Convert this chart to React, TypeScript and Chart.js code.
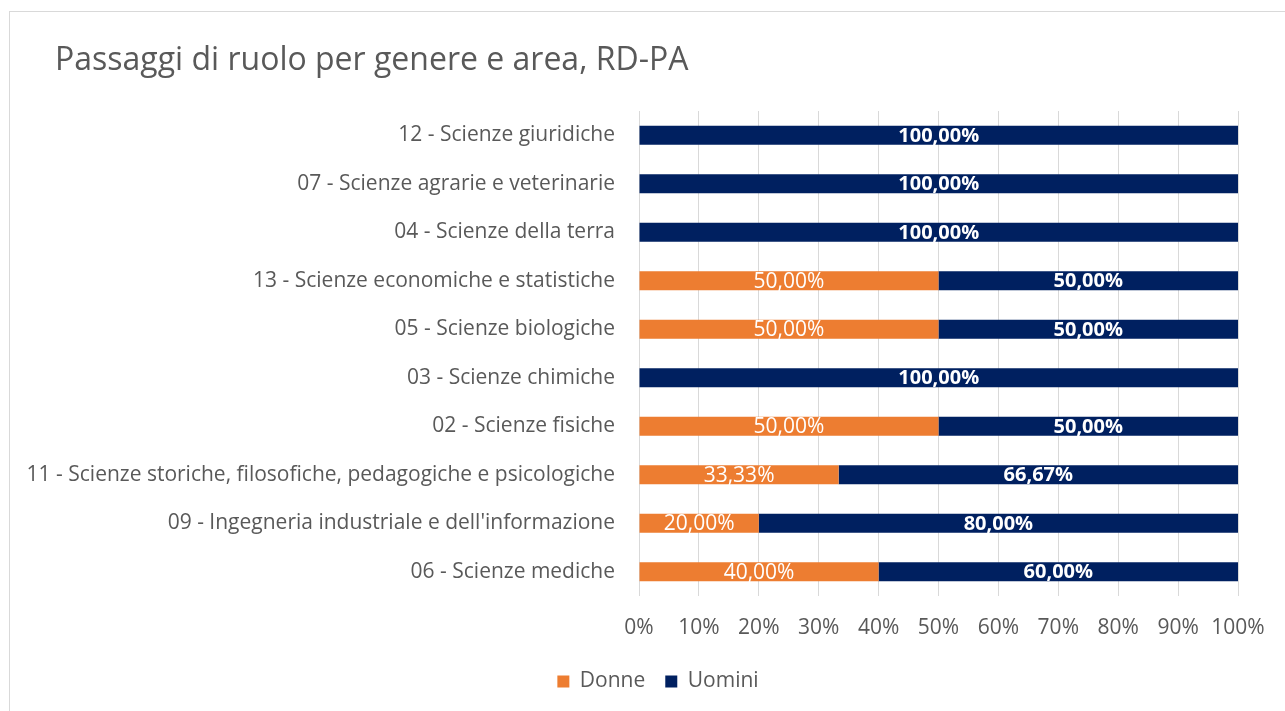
import React, { useEffect, useRef } from "react";
import { Chart, registerables } from "chart.js";

Chart.register(...registerables);

const titleText = "Passaggi di ruolo per genere e area, RD-PA";
const categories = [
  "12 - Scienze giuridiche",
  "07 - Scienze agrarie e veterinarie",
  "04 - Scienze della terra",
  "13 - Scienze economiche e statistiche",
  "05 - Scienze biologiche",
  "03 - Scienze chimiche",
  "02 - Scienze fisiche",
  "11 - Scienze storiche, filosofiche, pedagogiche e psicologiche",
  "09 - Ingegneria industriale e dell'informazione",
  "06 - Scienze mediche",
];
const donne = [0, 0, 0, 50, 50, 0, 50, 33.33, 20, 40];
const uomini = [100, 100, 100, 50, 50, 100, 50, 66.67, 80, 60];
const xTicks = [0, 10, 20, 30, 40, 50, 60, 70, 80, 90, 100];

const FONT = "'Open Sans', sans-serif";

const dataLabels = {
  id: "dataLabels",
  afterDatasetsDraw(chart: any) {
    const ctx = chart.ctx;
    ctx.save();
    ctx.textAlign = "center";
    ctx.textBaseline = "middle";
    ctx.fillStyle = "#ffffff";
    chart.data.datasets.forEach((ds: any, di: number) => {
      const meta = chart.getDatasetMeta(di);
      ctx.font = (di === 1 ? "bold 20px " : "21px ") + FONT;
      meta.data.forEach((el: any, i: number) => {
        const v = ds.data[i];
        if (!v) return;
        const cx = (el.x + el.base) / 2;
        ctx.fillText(v.toFixed(2).replace(".", ",") + "%", cx, el.y + 1);
      });
    });
    ctx.restore();
  },
};

const chartTitle = {
  id: "chartTitle",
  afterDraw(chart: any) {
    const ctx = chart.ctx;
    ctx.save();
    ctx.font = "32px " + FONT;
    ctx.fillStyle = "#595959";
    ctx.textAlign = "left";
    ctx.textBaseline = "alphabetic";
    ctx.fillText(titleText, 55, 70);
    ctx.restore();
  },
};

const legendShift = {
  id: "legendShift",
  afterLayout(chart: any) {
    if (chart.legend) {
      chart.legend.left += 34;
      chart.legend.right += 34;
    }
  },
};

export default function App() {
  const ref = useRef<HTMLCanvasElement>(null);
  useEffect(() => {
    if (!ref.current) return;
    const chart = new Chart(ref.current, {
      type: "bar",
      data: {
        labels: categories,
        datasets: [
          { label: "Donne", data: donne, backgroundColor: "#ED7D31", barPercentage: 0.8, categoryPercentage: 0.49 },
          { label: "Uomini", data: uomini, backgroundColor: "#002060", barPercentage: 0.8, categoryPercentage: 0.49 },
        ],
      },
      options: {
        indexAxis: "y",
        responsive: false,
        animation: false,
        layout: { padding: { left: 10, right: 47, top: 111, bottom: 9 } },
        scales: {
          x: {
            stacked: true,
            min: 0,
            max: 100,
            afterBuildTicks: (scale: any) => {
              scale.ticks = xTicks.map((v) => ({ value: v }));
            },
            afterFit: (scale: any) => {
              scale.height = 55;
            },
            grid: { color: "#d9d9d9", lineWidth: 1, drawTicks: false },
            border: { display: false },
            ticks: {
              color: "#595959",
              font: { family: FONT, size: 21 },
              padding: 19,
              callback: (v: any) => v + "%",
            },
          },
          y: {
            stacked: true,
            afterFit: (scale: any) => {
              scale.width = 639 - 10;
            },
            grid: { display: false, drawTicks: false },
            border: { display: false },
            ticks: {
              color: "#595959",
              font: { family: FONT, size: 21 },
              padding: 24,
            },
          },
        },
        plugins: {
          title: { display: false },
          legend: {
            position: "bottom",
            labels: {
              color: "#595959",
              font: { family: FONT, size: 21 },
              boxWidth: 12,
              boxHeight: 12,
              padding: 20,
            },
          },
          tooltip: { enabled: false },
        },
      },
      plugins: [dataLabels, chartTitle, legendShift],
    } as any);
    return () => chart.destroy();
  }, []);

  return (
    <div style={{ position: "fixed", left: 0, top: 0, width: 1285, height: 711, background: "#fff", overflow: "hidden" }}>
      <div
        style={{
          position: "absolute",
          left: 9,
          top: 11,
          width: 1300,
          height: 720,
          border: "1px solid #d9d9d9",
          boxSizing: "border-box",
        }}
      />
      <canvas ref={ref} width={1285} height={711} style={{ position: "absolute", left: 0, top: 0 }} />
    </div>
  );
}
